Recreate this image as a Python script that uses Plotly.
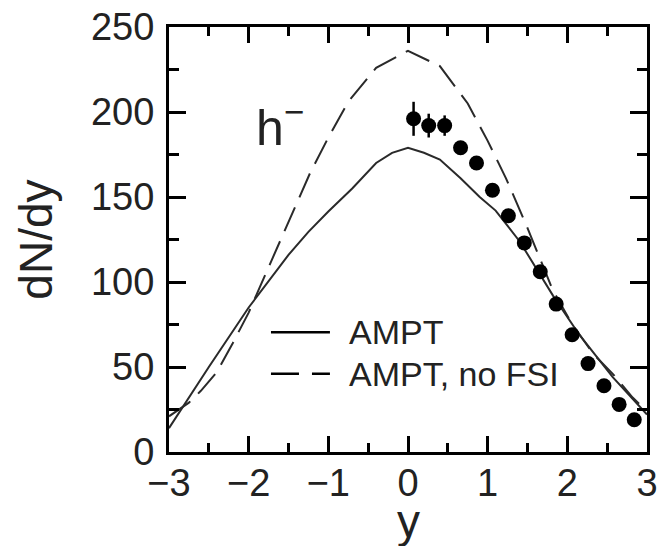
import plotly.graph_objects as go

# ---- data ----
ampt_x = [-3.0, -2.5, -2.0, -1.5, -1.25, -1.0, -0.7, -0.4, -0.2, 0.0, 0.2, 0.4, 0.66, 0.9, 1.1, 1.4, 1.82, 2.15, 2.57, 3.0]
ampt_y = [14, 50, 85, 116, 129.5, 141.5, 155, 170, 176, 179, 176, 172, 161, 150, 142, 124, 92, 69, 44, 22]

nofsi_x = [-3.0, -2.75, -2.6, -2.4, -2.2, -2.0, -1.86, -1.65, -1.44, -1.23, -1.0, -0.75, -0.4, 0.0,
           0.4, 0.75, 1.0, 1.23, 1.48, 1.65, 1.82, 2.05, 2.32, 2.57, 2.82, 3.0]
nofsi_y = [21, 29, 36, 47, 64, 82, 97, 119, 142, 164, 185, 206, 226, 236,
           227, 205, 183, 161, 134, 115, 95, 76, 58, 46, 32, 24]

data_x = [0.07, 0.26, 0.46, 0.66, 0.86, 1.06, 1.26, 1.46, 1.66, 1.86, 2.06, 2.26, 2.46, 2.65, 2.84]
data_y = [196, 192, 192, 179, 170, 154, 139, 123, 106, 87, 69, 52, 39, 28, 19]
data_err = [10, 7, 6, 3, 3, 3, 3, 3, 3, 3, 3, 3, 3, 3, 3]

x_ticks = [-3, -2, -1, 0, 1, 2, 3]
y_ticks = [0, 50, 100, 150, 200, 250]

FONT = "Liberation Sans, Arial, sans-serif"
LINE_COL = "#2a2a2a"
DASH = "26px,11px"

fig = go.Figure()
fig.add_trace(go.Scatter(x=ampt_x, y=ampt_y, mode="lines", name="AMPT",
                         line=dict(color=LINE_COL, width=2), showlegend=False))
fig.add_trace(go.Scatter(x=nofsi_x, y=nofsi_y, mode="lines", name="AMPT, no FSI",
                         line=dict(color=LINE_COL, width=2, dash=DASH), showlegend=False))
fig.add_trace(go.Scatter(x=data_x, y=data_y, mode="markers", name="data",
                         marker=dict(color="black", size=15, symbol="circle"),
                         error_y=dict(type="data", array=data_err, color="black",
                                      thickness=2.5, width=0),
                         showlegend=False))

# hand-drawn legend (long sample lines as in the reference)
fig.add_shape(type="line", x0=-1.72, x1=-0.98, y0=70.5, y1=70.5, xref="x", yref="y",
              line=dict(color="black", width=2.5))
fig.add_shape(type="line", x0=-1.72, x1=-0.98, y0=46, y1=46, xref="x", yref="y",
              line=dict(color="black", width=2.5, dash="28px,13px"))
fig.add_annotation(x=-0.77, y=70.5, xref="x", yref="y", text="AMPT", showarrow=False,
                   xanchor="left", yanchor="middle", font=dict(family=FONT, size=34, color="#222"))
fig.add_annotation(x=-0.77, y=46, xref="x", yref="y", text="AMPT, no FSI", showarrow=False,
                   xanchor="left", yanchor="middle", font=dict(family=FONT, size=34, color="#222"))
fig.add_annotation(x=-1.93, y=193, xref="x", yref="y", text="h<sup>−</sup>", showarrow=False,
                   xanchor="left", yanchor="middle", font=dict(family=FONT, size=50, color="#222"))

# axis titles placed explicitly
fig.add_annotation(x=0.5, y=-0.097, xref="paper", yref="paper", text="y", showarrow=False,
                   xanchor="center", yanchor="top", font=dict(family=FONT, size=46, color="#222"))
fig.add_annotation(x=-0.28, y=0.5, xref="paper", yref="paper", text="dN/dy", showarrow=False,
                   textangle=-90, xanchor="center", yanchor="middle",
                   font=dict(family=FONT, size=46, color="#222"))

axis_common = dict(showline=True, linewidth=3, linecolor="black", mirror="ticks",
                   ticks="inside", tickwidth=2.5, tickcolor="black",
                   showgrid=False, zeroline=False, automargin=False,
                   ticklabeloverflow="allow",
                   tickfont=dict(family=FONT, size=38, color="#222"))

fig.update_xaxes(range=[-3, 3], tickvals=x_ticks, ticklen=16,
                 minor=dict(dtick=0.5, ticklen=9, tickwidth=2.5, tickcolor="black", ticks="inside"),
                 ticklabelstandoff=-5, **axis_common)
fig.update_yaxes(range=[0, 250], tickvals=y_ticks, ticklen=17,
                 minor=dict(dtick=25, ticklen=10, tickwidth=2.5, tickcolor="black", ticks="inside"),
                 ticklabelstandoff=4, **axis_common)

fig.update_layout(width=657, height=546, margin=dict(l=169, r=10, t=27, b=94),
                  paper_bgcolor="white", plot_bgcolor="white", showlegend=False)

fig.write_html("out.html")
